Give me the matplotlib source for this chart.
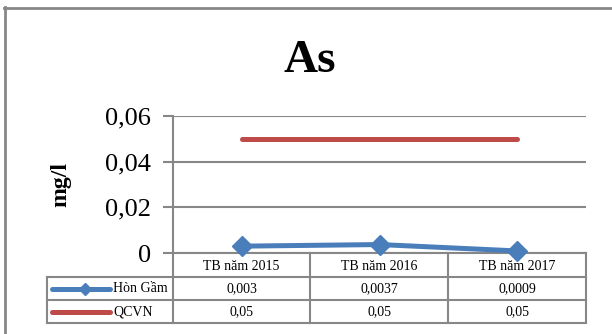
import matplotlib.pyplot as plt
from matplotlib.lines import Line2D
import numpy as np

plt.rcParams['font.family'] = ['Liberation Serif', 'DejaVu Serif']

categories = ['TB năm 2015', 'TB năm 2016', 'TB năm 2017']
hon_gam = [0.003, 0.0037, 0.0009]
qcvn = [0.05, 0.05, 0.05]
series_names = ['Hòn Gầm', 'QCVN']
series_text = [['0,003', '0,0037', '0,0009'], ['0,05', '0,05', '0,05']]
yticks = [0, 0.02, 0.04, 0.06]
ytick_labels = ['0', '0,02', '0,04', '0,06']

blue = '#4A7EBB'
red = '#BE4B48'
gray = '#878787'

W, H = 612, 334
fig = plt.figure(figsize=(W / 100, H / 100), dpi=100)


def fx(px):
    return px / W


def fy(py):
    return 1 - py / H


def hline(x0, x1, y, lw=1.5):
    fig.add_artist(Line2D([fx(x0), fx(x1)], [fy(y), fy(y)], color=gray, lw=lw,
                          transform=fig.transFigure))


def vline(x, y0, y1, lw=1.5):
    fig.add_artist(Line2D([fx(x), fx(x)], [fy(y0), fy(y1)], color=gray, lw=lw,
                          transform=fig.transFigure))


# outer chart border (only left/top visible)
hline(4, 612, 7.5, lw=2)
vline(4.5, 7, 334, lw=2)

# plot area
ax_l, ax_r, ax_t, ax_b = 173, 586, 116, 253
ax = fig.add_axes([fx(ax_l), fy(ax_b), fx(ax_r - ax_l), (ax_b - ax_t) / H])
x = np.arange(len(categories))
ax.set_xlim(-0.5, len(categories) - 0.5)
ax.set_ylim(0, 0.06)
ax.set_yticks(yticks)
ax.set_yticklabels(ytick_labels, fontsize=19)
ax.set_xticks([])
ax.yaxis.grid(True, color=gray, lw=1.5)
ax.set_axisbelow(True)
for s in ['top', 'right', 'bottom']:
    ax.spines[s].set_visible(False)
ax.spines['left'].set_color(gray)
ax.spines['left'].set_linewidth(1.5)
ax.tick_params(axis='y', length=7, width=1.5, color=gray, pad=9)
ax.patch.set_alpha(0)
ax.set_zorder(3)

ax.plot(x, qcvn, color=red, lw=3.6, solid_capstyle='round', clip_on=False)
ax.plot(x, hon_gam, color=blue, lw=3.6, marker='D', ms=10, clip_on=False)

ax.set_ylabel('mg/l', fontsize=17, fontweight='bold', labelpad=24)
fig.text(fx(310), fy(72), 'As', fontsize=34, fontweight='bold', ha='center', va='baseline')

# data table below
col_edges = [ax_l, 310, 448, ax_r]
row_edges = [253, 277, 300, 323]
tab_l = 47
hline(ax_l, ax_r, 253)
for y in row_edges[1:]:
    hline(tab_l, ax_r, y)
for xe in col_edges:
    vline(xe, 253, 323)
vline(tab_l, 277, 323)

for i, c in enumerate(categories):
    cx = (col_edges[i] + col_edges[i + 1]) / 2
    fig.text(fx(cx), fy(266), c, fontsize=10, ha='center', va='center')
    for r in range(2):
        cy = (row_edges[r + 1] + row_edges[r + 2]) / 2
        fig.text(fx(cx), fy(cy), series_text[r][i], fontsize=10, ha='center', va='center')

for r, (name, col) in enumerate(zip(series_names, [blue, red])):
    cy = (row_edges[r + 1] + row_edges[r + 2]) / 2
    fig.add_artist(Line2D([fx(52), fx(110)], [fy(cy), fy(cy)], color=col, lw=3.6,
                          solid_capstyle='round', transform=fig.transFigure))
    if r == 0:
        fig.add_artist(Line2D([fx(85)], [fy(cy)], color=col, marker='D', ms=6,
                              transform=fig.transFigure))
    fig.text(fx(113), fy(cy), name, fontsize=10, ha='left', va='center')

fig.savefig('out.png', dpi=100)
